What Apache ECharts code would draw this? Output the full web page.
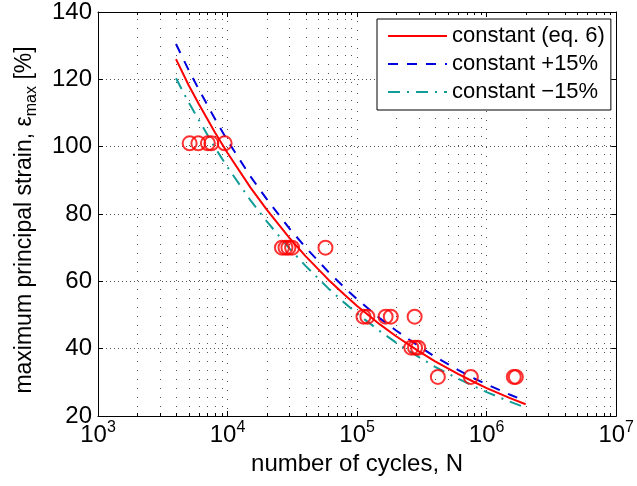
<!DOCTYPE html>
<html>
<head>
<meta charset="utf-8">
<script src="https://cdn.jsdelivr.net/npm/echarts@6/dist/echarts.min.js"></script>
<style>
  html, body { margin: 0; padding: 0; background: #fff; }
  #chart { width: 637px; height: 486px; }
</style>
</head>
<body>
<div id="chart"></div>
<script>
// curves (N on log axis, strain in %)
const nCurve = [4000, 5000, 6000, 8000, 10000, 15000, 20000, 30000, 40000, 60000, 80000,
  100000, 150000, 200000, 300000, 400000, 600000, 800000, 1000000, 1500000, 2000000]
const epsConst = [126, 118.3, 112.7, 104.2, 98.1, 87.9, 81.4, 72.9, 67.5, 60.5, 56.0,
  52.7, 47.2, 43.7, 39.2, 36.2, 32.5, 30.1, 28.3, 25.4, 23.5]
const epsPlus = [130.5, 122.8, 117.0, 108.2, 101.8, 91.2, 84.5, 75.7, 70.1, 62.8, 58.1,
  54.7, 49.0, 45.4, 40.7, 37.6, 33.7, 31.2, 29.4, 26.4, 24.4]
const epsMinus = [120.3, 113.2, 107.9, 99.7, 93.9, 84.1, 77.9, 69.8, 64.6, 57.9, 53.6,
  50.4, 45.2, 41.8, 37.5, 34.6, 31.1, 28.8, 27.1, 24.3, 22.5]

// test results (circles)
const testN = [5100, 5950, 7050, 7500, 9500, 26300, 28000, 29500, 31500, 57000,
  112000, 120000, 166000, 182000, 278000, 262000, 280000, 296000, 420000, 755000, 1620000, 1680000]
const testEps = [101, 101, 101, 101, 101, 70, 70, 70, 70, 70,
  49.5, 49.5, 49.5, 49.5, 49.5, 40.3, 40.3, 40.3, 31.6, 31.6, 31.6, 31.6]

const legendNames = ['constant (eq. 6)', 'constant +15%', 'constant \u221215%']

// minor log positions 2..9 per decade
const minorN = []
for (let d = 1000; d < 1e7; d *= 10) {
  for (let k = 2; k <= 9; k++) minorN.push(d * k)
}

const yMin = 20
const yMax = 140
const font = 'Liberation Sans, Arial, Helvetica, sans-serif'

const zip = (xs, ys) => xs.map((x, i) => [x, ys[i]])

const chart = echarts.init(document.getElementById('chart'))

const option = {
  animation: false,
  textStyle: { fontFamily: font },
  grid: { left: 98, right: 15, top: 9, bottom: 70, show: false },
  legend: {
    data: legendNames,
    orient: 'vertical',
    left: 377,
    top: 19,
    padding: [6, 6, 7, 10],
    itemGap: 6,
    itemWidth: 59,
    itemHeight: 14,
    backgroundColor: '#fff',
    borderColor: '#000',
    borderWidth: 1,
    borderRadius: 0,
    selectedMode: false,
    itemStyle: { opacity: 0, borderWidth: 0 },
    textStyle: { fontSize: 22, color: '#000', fontFamily: font }
  },
  xAxis: [
    {
      type: 'log',
      logBase: 10,
      min: 1000,
      max: 1e7,
      name: 'number of cycles, N',
      nameLocation: 'middle',
      nameGap: 36,
      nameTextStyle: { fontSize: 24, color: '#000' },
      axisLine: { lineStyle: { color: '#000', width: 1 } },
      axisTick: { inside: true, length: 5, lineStyle: { color: '#000' } },
      axisLabel: {
        margin: 4,
        formatter: v => '{b|10}{e|' + Math.round(Math.log10(v)) + '}',
        rich: {
          b: { fontSize: 24, lineHeight: 31, color: '#000', fontFamily: font },
          e: { fontSize: 16, lineHeight: 16, verticalAlign: 'top', color: '#000', fontFamily: font }
        }
      },
      splitLine: { show: true, lineStyle: { color: '#555', type: [1, 8], width: 1 } }
    },
    {
      type: 'log',
      logBase: 10,
      min: 1000,
      max: 1e7,
      position: 'top',
      axisLine: { lineStyle: { color: '#000', width: 1 } },
      axisTick: { inside: true, length: 5, lineStyle: { color: '#000' } },
      axisLabel: { show: false },
      splitLine: { show: false }
    }
  ],
  yAxis: [
    {
      type: 'value',
      min: yMin,
      max: yMax,
      interval: 20,
      name: '{a|maximum principal strain, \u03b5}{s|max}{a| [%]}',
      nameLocation: 'middle',
      nameGap: 58,
      nameRotate: 90,
      nameTextStyle: {
        padding: [0, 12, 0, 0],
        rich: {
          a: { fontSize: 23, lineHeight: 30, color: '#000', fontFamily: font },
          s: { fontSize: 16, lineHeight: 16, verticalAlign: 'bottom', color: '#000', fontFamily: font }
        }
      },
      axisLine: { show: true, lineStyle: { color: '#000', width: 1 } },
      axisTick: { show: true, inside: true, length: 5, lineStyle: { color: '#000' } },
      axisLabel: { fontSize: 24, color: '#000', margin: 6 },
      splitLine: { show: true, lineStyle: { color: '#555', type: [1, 3], width: 1 } }
    },
    {
      type: 'value',
      min: yMin,
      max: yMax,
      interval: 20,
      position: 'right',
      axisLine: { show: true, lineStyle: { color: '#000', width: 1 } },
      axisTick: { show: true, inside: true, length: 5, lineStyle: { color: '#000' } },
      axisLabel: { show: false },
      splitLine: { show: false }
    }
  ],
  series: [
    {
      // minor grid lines and minor ticks of the log axis
      type: 'custom',
      silent: true,
      z: 1,
      data: minorN.map(v => [v, yMin]),
      renderItem: (params, api) => {
        const x = api.value(0)
        const b = api.coord([x, yMin])
        const t = api.coord([x, yMax])
        const px = Math.round(b[0]) + 0.5
        return {
          type: 'group',
          children: [
            { type: 'line', shape: { x1: px, y1: b[1], x2: px, y2: t[1] }, style: { stroke: '#555', lineWidth: 1, lineDash: [1, 8] } },
            { type: 'line', shape: { x1: px, y1: b[1], x2: px, y2: b[1] - 3 }, style: { stroke: '#000', lineWidth: 1 } },
            { type: 'line', shape: { x1: px, y1: t[1], x2: px, y2: t[1] + 3 }, style: { stroke: '#000', lineWidth: 1 } }
          ]
        }
      }
    },
    {
      name: legendNames[0],
      type: 'line',
      symbol: 'none',
      z: 4,
      data: zip(nCurve, epsConst),
      lineStyle: { color: '#ff0000', width: 2, type: 'solid' },
      itemStyle: { color: '#ff0000' }
    },
    {
      name: legendNames[1],
      type: 'line',
      symbol: 'none',
      z: 3,
      data: zip(nCurve, epsPlus),
      lineStyle: { color: '#0000dd', width: 2, type: [10, 9] },
      itemStyle: { color: '#0000dd' }
    },
    {
      name: legendNames[2],
      type: 'line',
      symbol: 'none',
      z: 3,
      data: zip(nCurve, epsMinus),
      lineStyle: { color: '#129c98', width: 2, type: [12, 7, 2, 7] },
      itemStyle: { color: '#129c98' }
    },
    {
      name: 'tests',
      type: 'scatter',
      z: 5,
      symbol: 'circle',
      symbolSize: 14,
      data: zip(testN, testEps),
      itemStyle: { color: 'rgba(0,0,0,0)', borderColor: '#ff0000', borderWidth: 2 }
    }
  ]
}

chart.setOption(option)
</script>
</body>
</html>
